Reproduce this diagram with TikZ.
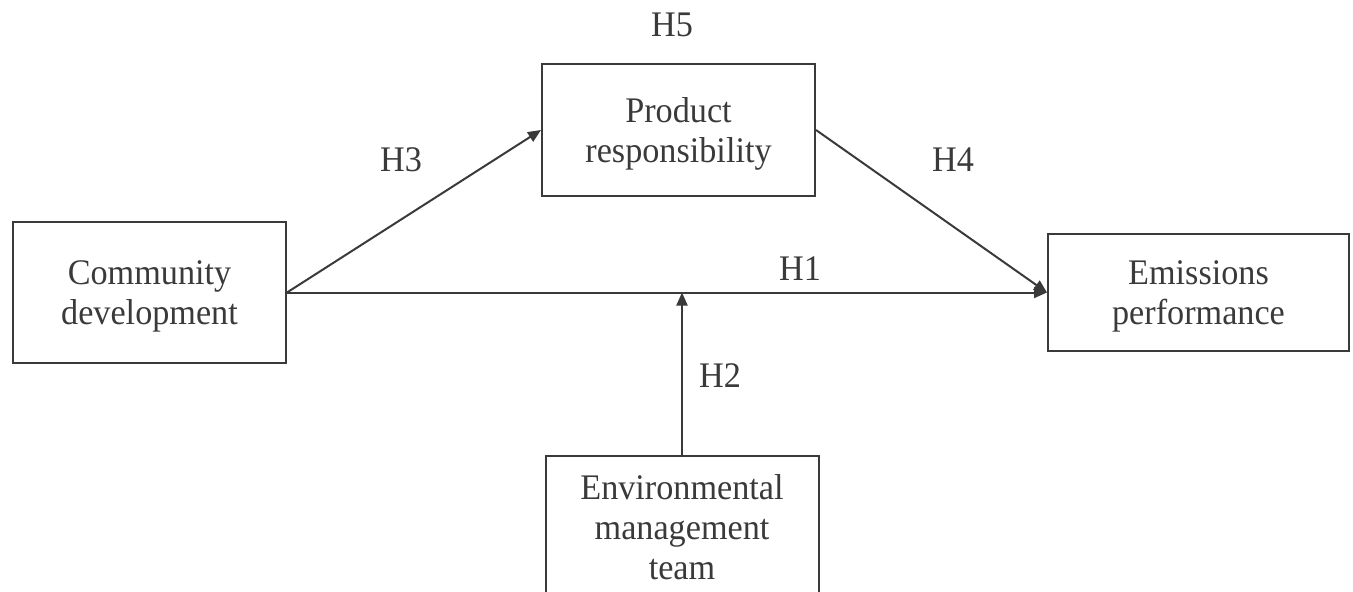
\documentclass[tikz,border=0pt]{standalone}
\usepackage{fontspec}
\setmainfont{Liberation Serif}[FakeStretch=0.95]
\usetikzlibrary{arrows.meta}
\definecolor{ink}{HTML}{3A3A3A}
\begin{document}
\begin{tikzpicture}[x=1pt,y=-1pt,
  box/.style={draw=ink,line width=2pt,inner sep=0pt},
  txt/.style={text=ink,inner sep=0pt,align=center,font=\fontsize{36}{40}\selectfont},
  lab/.style={text=ink,inner sep=0pt,font=\fontsize{36}{40}\selectfont},
  arr/.style={draw=ink,line width=2pt,-{Triangle[length=13pt,width=11pt]}}]
\useasboundingbox (0,0) rectangle (1353,592);
\clip (0,0) rectangle (1353,592);
\node[box,minimum width=273pt,minimum height=132pt] (prod) at (678.5,130) {};
\node[box,minimum width=301pt,minimum height=117pt] (emis) at (1198.5,292.5) {};
\node[box,minimum width=273pt,minimum height=141pt] (comm) at (149.5,292.5) {};
\node[box,minimum width=273pt,minimum height=142pt] (env) at (682,527) {};
\node[txt] (prodt) at ([yshift=-4pt]prod.center) {Product\\responsibility};
\node[txt] (emist) at ([yshift=-4pt]emis.center) {Emissions\\performance};
\node[txt] (commt) at ([yshift=-4pt]comm.center) {Community\\development};
\node[txt] (envt) at (env.center) {Environmental\\management\\team};
\coordinate (mod) at (env.north |- comm.east);
\draw[arr] (comm.east) -- (emis.west);
\draw[arr] (comm.east) -- (prod.west);
\draw[arr] (prod.east) -- (emis.west);
\draw[arr] (env.north) -- (mod);
\node[lab] (h5) at (672,25) {H5};
\node[lab] (h3) at (401,160) {H3};
\node[lab] (h4) at (953,160) {H4};
\node[lab] (h1) at (800,269) {H1};
\node[lab] (h2) at (720,376) {H2};
\end{tikzpicture}
\end{document}
